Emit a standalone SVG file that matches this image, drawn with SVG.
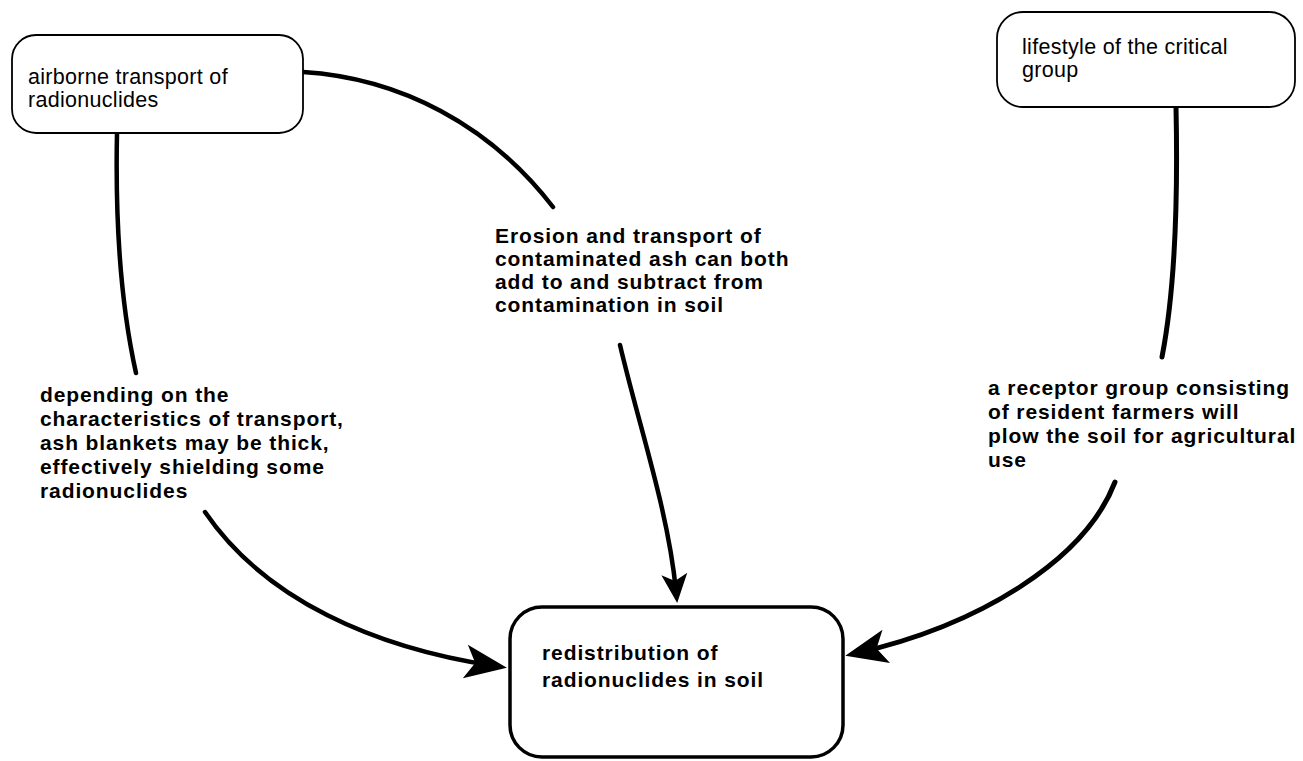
<svg xmlns="http://www.w3.org/2000/svg" width="1303" height="761" viewBox="0 0 1303 761">
  <style>
    .bg { fill: #ffffff; }
    .box-thin { fill: #ffffff; stroke: #000000; stroke-width: 1.8; }
    .box-thick { fill: #ffffff; stroke: #000000; stroke-width: 3.5; }
    .node-text { font-family: "Liberation Sans", Arial, sans-serif; font-size: 21.5px; letter-spacing: 0.3px; fill: #000000; }
    .bold-text { font-family: "Liberation Sans", Arial, sans-serif; font-size: 21px; font-weight: bold; letter-spacing: 0.9px; fill: #000000; }
    .link { fill: none; stroke: #000000; stroke-width: 4.5; stroke-linecap: round; }
  </style>
  <defs>
    <!-- concave-backed arrowhead; tip sits 12px past the path end -->
    <marker id="arrow-big" markerUnits="userSpaceOnUse" viewBox="-34 -20 50 40" refX="0" refY="0" markerWidth="50" markerHeight="40" orient="auto">
      <path d="M12,0 L-30,-17 L-20,0 L-30,17 Z" fill="#000000"/>
    </marker>
    <marker id="arrow-small" markerUnits="userSpaceOnUse" viewBox="-24 -16 40 32" refX="0" refY="0" markerWidth="40" markerHeight="32" orient="auto">
      <path d="M12,0 L-17,-13 L-10,0 L-17,13 Z" fill="#000000"/>
    </marker>
  </defs>

  <rect class="bg" x="0" y="0" width="1303" height="761"/>

  <!-- connectors -->
  <g id="connectors">
    <path class="link" d="M303,72 C400,78 490,125 553,207"/>
    <path class="link" d="M117,133 C115,230 122,310 136,373"/>
    <path class="link" d="M205,512 C265,600 375,648 495,666" marker-end="url(#arrow-big)"/>
    <path class="link" d="M620,345 C640,430 668,510 676,591" marker-end="url(#arrow-small)"/>
    <path class="link" style="stroke-width:5" d="M1176,107 C1178,200 1175,290 1162,357"/>
    <path class="link" style="stroke-width:5" d="M1115,482 C1085,560 980,625 857,653" marker-end="url(#arrow-big)"/>
  </g>

  <!-- nodes -->
  <g id="node-airborne">
    <rect class="box-thin" x="12" y="35" width="291" height="98" rx="24" ry="24"/>
    <text class="node-text" x="28" y="84">airborne transport of</text>
    <text class="node-text" x="28" y="107">radionuclides</text>
  </g>

  <g id="node-lifestyle">
    <rect class="box-thin" x="997" y="12" width="298" height="95" rx="26" ry="26"/>
    <text class="node-text" x="1022" y="54">lifestyle of the critical</text>
    <text class="node-text" x="1022" y="77">group</text>
  </g>

  <g id="node-redistribution">
    <rect class="box-thick" x="510" y="607" width="333" height="150" rx="32" ry="32"/>
    <text class="bold-text" x="542" y="660">redistribution of</text>
    <text class="bold-text" x="542" y="687">radionuclides in soil</text>
  </g>

  <!-- connector labels -->
  <g id="label-ash-blankets">
    <text class="bold-text" x="40" y="402">depending on the</text>
    <text class="bold-text" x="40" y="426">characteristics of transport,</text>
    <text class="bold-text" x="40" y="450">ash blankets may be thick,</text>
    <text class="bold-text" x="40" y="474">effectively shielding some</text>
    <text class="bold-text" x="40" y="498">radionuclides</text>
  </g>

  <g id="label-erosion">
    <text class="bold-text" x="495" y="243">Erosion and transport of</text>
    <text class="bold-text" x="495" y="266">contaminated ash can both</text>
    <text class="bold-text" x="495" y="289">add to and subtract from</text>
    <text class="bold-text" x="495" y="312">contamination in soil</text>
  </g>

  <g id="label-farmers">
    <text class="bold-text" x="988" y="395">a receptor group consisting</text>
    <text class="bold-text" x="988" y="419">of resident farmers will</text>
    <text class="bold-text" x="988" y="443">plow the soil for agricultural</text>
    <text class="bold-text" x="988" y="467">use</text>
  </g>
</svg>
